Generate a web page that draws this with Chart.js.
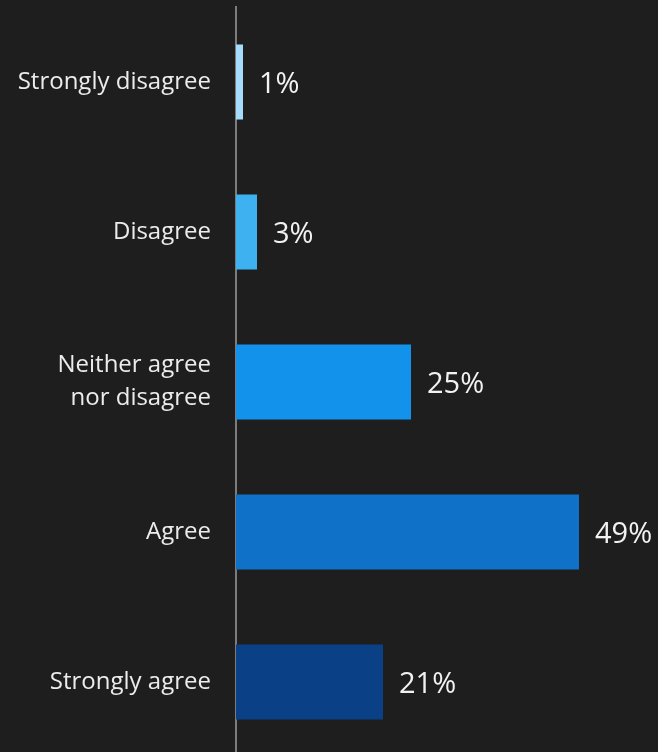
<!DOCTYPE html>
<html>
<head>
<meta charset="utf-8">
<script src="https://cdn.jsdelivr.net/npm/chart.js@4"></script>
<style>
  html, body { margin: 0; padding: 0; background: #1e1e1e; overflow: hidden; }
  #wrap { position: relative; width: 658px; height: 760px; }
</style>
</head>
<body>
<div id="wrap"><canvas id="c" width="658" height="760"></canvas></div>
<script>
const categories = ["Strongly disagree", "Disagree", ["Neither agree", "nor disagree"], "Agree", "Strongly agree"];
const values = [1, 3, 25, 49, 21];
const valueLabels = ["1%", "3%", "25%", "49%", "21%"];
const barColors = ["#a6dcfb", "#3eb1f0", "#1292ea", "#0f72c8", "#0a4085"];

const labelPlugin = {
  id: "valueLabels",
  afterDatasetsDraw(chart) {
    const ctx = chart.ctx;
    const meta = chart.getDatasetMeta(0);
    ctx.save();
    ctx.fillStyle = "#f2f2f2";
    ctx.font = "29px 'Open Sans'";
    ctx.textAlign = "left";
    ctx.textBaseline = "middle";
    meta.data.forEach((el, i) => {
      ctx.fillText(valueLabels[i], el.x + 16, el.y + 3);
    });
    ctx.restore();
  }
};

new Chart(document.getElementById("c"), {
  type: "bar",
  data: {
    labels: categories,
    datasets: [{
      data: values,
      backgroundColor: barColors,
      borderWidth: 0,
      barPercentage: 0.5,
      categoryPercentage: 1.0
    }]
  },
  options: {
    indexAxis: "y",
    responsive: false,
    animation: false,
    layout: { padding: { top: 7, bottom: 3, left: 0, right: 2 } },
    plugins: { legend: { display: false }, tooltip: { enabled: false } },
    scales: {
      x: { display: false, min: 0, max: 60 },
      y: {
        grid: { display: false, drawTicks: false },
        border: { display: true, color: "#7c7c7c", width: 2 },
        ticks: {
          color: "#ececec",
          padding: 25,
          font: { family: "'Open Sans'", size: 24, lineHeight: 1.375 }
        },
        afterFit(scale) {
          scale.width = 236;
          scale.paddingTop = 0;
          scale.paddingBottom = 0;
        }
      }
    }
  },
  plugins: [labelPlugin]
});
</script>
</body>
</html>
